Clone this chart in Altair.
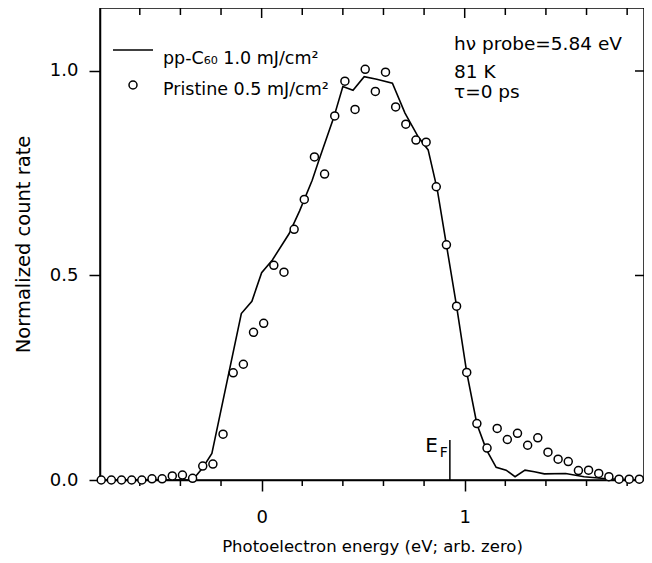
import altair as alt
import pandas as pd

FONT = "DejaVu Sans"
W, H = 544, 472
X_DOMAIN = [-0.796, 1.883]
Y_DOMAIN = [0.0, 1.154]

# Pristine 0.5 mJ/cm2 (open circles)
pristine_energy = [-0.79, -0.74, -0.69, -0.64, -0.59, -0.54, -0.49, -0.44, -0.39, -0.34,
                   -0.29, -0.24, -0.19, -0.14, -0.09, -0.04, 0.01, 0.06, 0.11, 0.16,
                   0.21, 0.26, 0.31, 0.36, 0.41, 0.46, 0.51, 0.56, 0.61, 0.66,
                   0.71, 0.76, 0.81, 0.86, 0.91, 0.96, 1.01, 1.06, 1.11, 1.16,
                   1.21, 1.26, 1.31, 1.36, 1.41, 1.46, 1.51, 1.56, 1.61, 1.66,
                   1.71, 1.76, 1.81, 1.86]
pristine_rate = [0.0, 0.0, 0.0, 0.0, 0.0, 0.003, 0.003, 0.01, 0.012, 0.004,
                 0.034, 0.039, 0.112, 0.262, 0.283, 0.361, 0.383, 0.525, 0.508, 0.613,
                 0.686, 0.79, 0.748, 0.89, 0.975, 0.906, 1.004, 0.95, 0.997, 0.912,
                 0.87, 0.831, 0.826, 0.717, 0.575, 0.425, 0.263, 0.138, 0.078, 0.126,
                 0.099, 0.114, 0.085, 0.103, 0.068, 0.051, 0.045, 0.023, 0.024, 0.016,
                 0.008, 0.002, 0.002, 0.002]

# pp-C60 1.0 mJ/cm2 (solid line)
ppc60_energy = [-0.79, -0.34, -0.29, -0.245, -0.10, -0.048, 0.0, 0.053, 0.135, 0.187,
                0.249, 0.282, 0.355, 0.40, 0.45, 0.505, 0.567, 0.644, 0.706, 0.771,
                0.82, 0.865, 0.91, 0.96, 1.01, 1.06, 1.106, 1.155, 1.204, 1.248,
                1.297, 1.343, 1.392, 1.497, 1.588, 1.70, 1.86]
ppc60_rate = [0.0, 0.0, 0.03, 0.065, 0.407, 0.437, 0.507, 0.538, 0.602, 0.658,
              0.733, 0.782, 0.886, 0.962, 0.953, 0.986, 0.98, 0.97, 0.897, 0.839,
              0.807, 0.71, 0.575, 0.425, 0.263, 0.137, 0.075, 0.031, 0.024, 0.008,
              0.024, 0.02, 0.015, 0.016, 0.008, 0.003, 0.0]

major_x_ticks = [0, 1]
minor_x_ticks = [-0.6, -0.4, -0.2, 0.2, 0.4, 0.6, 0.8, 1.2, 1.4, 1.6, 1.8]
y_ticks = [0.0, 0.5, 1.0]
right_ticks = [0.5, 1.0]
ef_energy = [0.927]
ef_top = [0.098]

legend_labels = ["pp-C\u2086\u2080 1.0 mJ/cm\u00b2", "Pristine 0.5 mJ/cm\u00b2"]
info_lines = ["h\u03bd probe=5.84 eV", "81 K", "\u03c4=0 ps"]

xs = alt.Scale(domain=X_DOMAIN, nice=False, zero=False)
ys = alt.Scale(domain=Y_DOMAIN, nice=False, zero=False)

line_df = pd.DataFrame({"e": ppc60_energy, "r": ppc60_rate})
pts_df = pd.DataFrame({"e": pristine_energy, "r": pristine_rate})

line = alt.Chart(line_df).mark_line(color="black", strokeWidth=1.6).encode(
    x=alt.X("e:Q", scale=xs, axis=alt.Axis(
        values=major_x_ticks, format="d", tickSize=11, labelPadding=17,
        labelFontSize=18, title="Photoelectron energy (eV; arb. zero)",
        titleFontSize=16.5, titlePadding=12)),
    y=alt.Y("r:Q", scale=ys, axis=alt.Axis(
        values=y_ticks, format=".1f", tickSize=11, labelPadding=11,
        labelFontSize=18, title="Normalized count rate", titleFontSize=19.5,
        titlePadding=16)),
)

points = alt.Chart(pts_df).mark_point(
    shape="circle", filled=True, fill="white", stroke="black",
    strokeWidth=1.5, size=64, opacity=1
).encode(
    x=alt.X("e:Q", scale=xs),
    y=alt.Y("r:Q", scale=ys),
)

bottom_minor = alt.Chart(pd.DataFrame({"t": minor_x_ticks})).mark_rule(
    color="black", strokeWidth=1.5).encode(
    x=alt.X("t:Q", scale=xs), y=alt.value(H), y2=alt.value(H + 6))

top_minor = alt.Chart(pd.DataFrame({"t": minor_x_ticks})).mark_rule(
    color="black", strokeWidth=1.5).encode(
    x=alt.X("t:Q", scale=xs), y=alt.value(0), y2=alt.value(7))

top_major = alt.Chart(pd.DataFrame({"t": major_x_ticks})).mark_rule(
    color="black", strokeWidth=1.5).encode(
    x=alt.X("t:Q", scale=xs), y=alt.value(0), y2=alt.value(10))

right_major = alt.Chart(pd.DataFrame({"t": right_ticks})).mark_rule(
    color="black", strokeWidth=1.5).encode(
    y=alt.Y("t:Q", scale=ys), x=alt.value(W - 9), x2=alt.value(W))

ef_rule = alt.Chart(pd.DataFrame({"e": ef_energy, "top": ef_top})).mark_rule(
    color="black", strokeWidth=1.5).encode(
    x=alt.X("e:Q", scale=xs),
    y=alt.Y("top:Q", scale=ys), y2=alt.datum(0))

ef_E = alt.Chart(pd.DataFrame({"e": ef_energy, "s": ["E"]})).mark_text(
    align="right", baseline="alphabetic", font=FONT, fontSize=20, dx=-12,
    color="black").encode(
    x=alt.X("e:Q", scale=xs), y=alt.value(444), text="s:N")

ef_F = alt.Chart(pd.DataFrame({"e": ef_energy, "s": ["F"]})).mark_text(
    align="right", baseline="alphabetic", font=FONT, fontSize=14, dx=-2,
    color="black").encode(
    x=alt.X("e:Q", scale=xs), y=alt.value(449), text="s:N")

# legend
leg_line = alt.Chart(pd.DataFrame({"a": [0]})).mark_rule(
    color="black", strokeWidth=1.6).encode(
    x=alt.value(13), x2=alt.value(53), y=alt.value(42))
leg_pt = alt.Chart(pd.DataFrame({"a": [0]})).mark_point(
    shape="circle", filled=True, fill="white", stroke="black",
    strokeWidth=1.5, size=64, opacity=1).encode(
    x=alt.value(33), y=alt.value(77))


def label(text, px, py, size):
    return alt.Chart(pd.DataFrame({"s": [text]})).mark_text(
        align="left", baseline="alphabetic", font=FONT, fontSize=size,
        color="black").encode(x=alt.value(px), y=alt.value(py), text="s:N")


leg_texts = [label(legend_labels[0], 63, 56, 17.5), label(legend_labels[1], 63, 87, 17.5)]
info_texts = [label(info_lines[0], 354, 42, 18.5), label(info_lines[1], 354, 70, 18.5),
              label(info_lines[2], 354, 90, 18.5)]

chart = alt.layer(
    line, bottom_minor, top_minor, top_major, right_major, ef_rule, ef_E, ef_F,
    points, leg_line, leg_pt, *leg_texts, *info_texts
).properties(
    width=W, height=H,
    autosize=alt.AutoSizeParams(type="none"),
    padding={"left": 92, "top": 0, "right": 0, "bottom": 75},
    background="white",
).configure_axis(
    domainColor="black", tickColor="black", domainWidth=1.5, tickWidth=1.5,
    labelColor="black", titleColor="black", labelFont=FONT, titleFont=FONT,
    grid=False, titleFontWeight="normal",
).configure_view(
    stroke="black", strokeWidth=1.5
)

chart.save("out.html", embed_options={"renderer": "svg", "actions": False})
